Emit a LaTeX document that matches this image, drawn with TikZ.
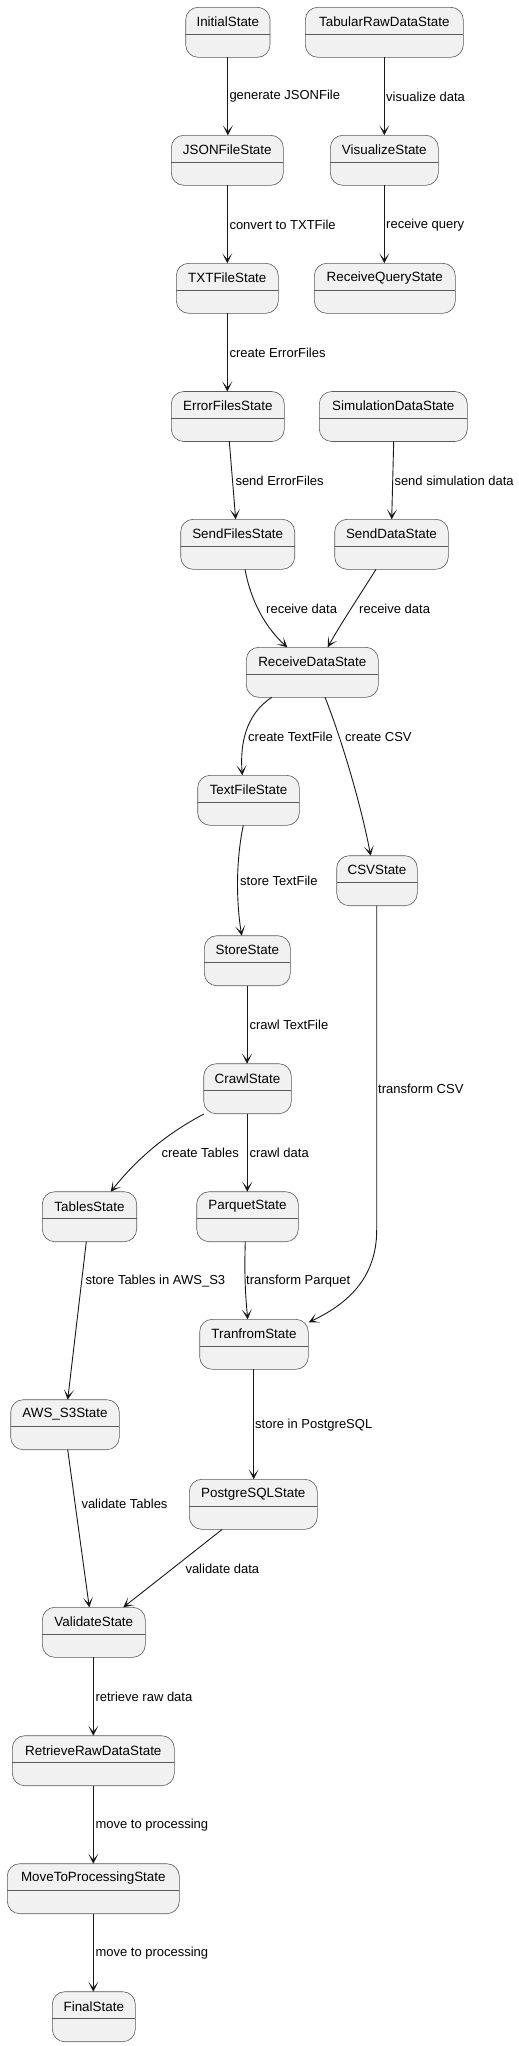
\documentclass[tikz,border=0pt]{standalone}
\usepackage{fontspec}
\setmainfont{Liberation Sans}
\usetikzlibrary{arrows.meta}
\definecolor{stfill}{HTML}{F1F1F1}
\definecolor{stline}{HTML}{181818}
\definecolor{stborder}{HTML}{5A5A5A}
\tikzset{
  stbox/.style={draw=stborder, line width=0.6pt, fill=stfill, rounded corners=12.5pt,
    minimum height=50pt, inner sep=0pt, outer sep=0pt},
  sttitle/.style={font=\fontsize{13.4}{16}\selectfont, inner sep=0pt, text=black},
  lbl/.style={font=\fontsize{13}{15}\selectfont, inner sep=0pt, anchor=west, text=black},
  tr/.style={draw=stline, line width=0.9pt, -{Stealth[length=10pt,width=10pt,inset=6pt]}}
}
\newcommand{\mystate}[5]{%
  \node[stbox, minimum width=#4pt] (#1) at (#2,#3) {};
  \node[sttitle] (#1t) at ([yshift=-14.5pt]#1.north) {#5};
  \draw[stborder, line width=0.6pt] ([yshift=-26.7pt]#1.north west) -- ([yshift=-26.7pt]#1.north east);
}
\begin{document}
\begin{tikzpicture}[x=1pt, y=-1pt]
\useasboundingbox (0,0) rectangle (519,2046);
\mystate{ini}{227.85}{32.3}{84.3}{InitialState}
\mystate{tab}{384.3}{32.3}{158}{TabularRawDataState}
\mystate{json}{227.3}{160.3}{112}{JSONFileState}
\mystate{vis}{384.3}{160.3}{108}{VisualizeState}
\mystate{txt}{227.3}{288.3}{102}{TXTFileState}
\mystate{rq}{384.8}{288.3}{141}{ReceiveQueryState}
\mystate{err}{227.8}{416.5}{113}{ErrorFilesState}
\mystate{sim}{393.3}{416.5}{148}{SimulationDataState}
\mystate{sendf}{237.7}{544.3}{114}{SendFilesState}
\mystate{sendd}{391.5}{544.3}{113.6}{SendDataState}
\mystate{recv}{312.3}{672.3}{132}{ReceiveDataState}
\mystate{textf}{248.5}{800.3}{101.6}{TextFileState}
\mystate{csv}{377}{880.7}{80.6}{CSVState}
\mystate{store}{247.3}{960.7}{86}{StoreState}
\mystate{crawl}{247.5}{1088.7}{87.6}{CrawlState}
\mystate{tables}{89.5}{1216.7}{94.4}{TablesState}
\mystate{parq}{247.5}{1216.7}{101.6}{ParquetState}
\mystate{tranf}{254}{1344.3}{108.6}{TranfromState}
\mystate{aws}{65}{1424.7}{108.6}{AWS\_S3State}
\mystate{pg}{253.3}{1504.3}{128}{PostgreSQLState}
\mystate{val}{93.8}{1632.3}{103}{ValidateState}
\mystate{ret}{93.3}{1760.7}{162}{RetrieveRawDataState}
\mystate{move}{93.3}{1888.7}{172}{MoveToProcessingState}
\mystate{fin}{93.8}{2016.7}{83}{FinalState}

% connectors
\draw[tr] (ini.south) -- (ini.south |- json.north);
\draw[tr] (tab.south) -- (tab.south |- vis.north);
\draw[tr] (json.south) -- (json.north |- txt.north);
\draw[tr] (vis.south) -- (vis.south |- rq.north);
\draw[tr] (txt.south) -- (txt.south |- err.north);
\draw[tr] ([xshift=1.5pt]err.south) -- ([xshift=-2pt]sendf.north);
\draw[tr] ([xshift=0.4pt]sim.south) -- ([xshift=0.2pt]sendd.north);
\draw[tr] ([xshift=7.3pt]sendf.south) .. controls (251,602) and (266,628) .. ([xshift=-25pt]recv.north);
\draw[tr] ([xshift=-15.5pt]sendd.south) .. controls (358,598) and (340,625) .. ([xshift=15.4pt]recv.north);
\draw[tr] ([xshift=-40.6pt]recv.south) .. controls (245,715) and (240,745) .. ([xshift=-6.2pt]textf.north);
\draw[tr] ([xshift=12.7pt]recv.south) .. controls (340,735) and (360,800) .. ([xshift=-6.3pt]csv.north);
\draw[tr] ([xshift=-5.2pt]textf.south) .. controls (236,860) and (236,900) .. ([xshift=-5.6pt]store.north);
\draw[tr] ([xshift=-0.2pt]store.south) -- ([xshift=-0.2pt]store.south |- crawl.north);
\draw[tr] ([yshift=-0.4pt]crawl.south west) .. controls (170,1132) and (140,1155) .. ([xshift=21.2pt]tables.north);
\draw[tr] ([xshift=-0.2pt]crawl.south) -- ([xshift=-0.2pt]crawl.south |- parq.north);
\draw[tr] ([xshift=-0.3pt]csv.south) -- (376.7,1230) .. controls (376.7,1280) and (345,1305) .. ([xshift=0.5pt, yshift=-3pt]tranf.north east);
\draw[tr] ([xshift=-3.2pt]tables.south) -- ([xshift=2.7pt]aws.north);
\draw[tr] ([xshift=-2.2pt]parq.south) .. controls (244,1280) and (246,1300) .. ([xshift=-6.3pt]tranf.north);
\draw[tr] ([xshift=-0.3pt]tranf.south) -- ([xshift=-0.3pt]tranf.south |- pg.north);
\draw[tr] ([xshift=2.7pt]aws.south) -- ([xshift=-4.5pt]val.north);
\draw[tr] ([xshift=-31pt]pg.south) -- ([xshift=29.5pt]val.north);
\draw[tr] ([xshift=-0.5pt]val.south) -- (ret.north);
\draw[tr] (ret.south) -- (move.north);
\draw[tr] (move.south) -- ([xshift=-0.5pt]fin.north);

% labels
\node[lbl] (l1) at (229.3,96.5) {generate JSONFile};
\node[lbl] (l2) at (386,96.5) {visualize data};
\node[lbl] (l3) at (229.3,224.7) {convert to TXTFile};
\node[lbl] (l4) at (386,224.7) {receive query};
\node[lbl] (l5) at (229.3,352.7) {create ErrorFiles};
\node[lbl] (l6) at (235.3,480.7) {send ErrorFiles};
\node[lbl] (l7) at (394.3,480.7) {send simulation data};
\node[lbl] (l8) at (266,608.7) {receive data};
\node[lbl] (l9) at (359,608.7) {receive data};
\node[lbl] (l10) at (248,736.7) {create TextFile};
\node[lbl] (l11) at (345,736.7) {create CSV};
\node[lbl] (l12) at (240,880.7) {store TextFile};
\node[lbl] (l13) at (249.3,1024.7) {crawl TextFile};
\node[lbl] (l14) at (378,1088.7) {transform CSV};
\node[lbl] (l15) at (161.3,1152.7) {create Tables};
\node[lbl] (l16) at (249.3,1152.7) {crawl data};
\node[lbl] (l17) at (85.3,1280.7) {store Tables in AWS\_S3};
\node[lbl] (l18) at (246,1280.7) {transform Parquet};
\node[lbl] (l19) at (255,1424.7) {store in PostgreSQL};
\node[lbl] (l20) at (81.3,1504.3) {validate Tables};
\node[lbl] (l21) at (185.3,1568.7) {validate data};
\node[lbl] (l22) at (95.3,1696.7) {retrieve raw data};
\node[lbl] (l23) at (95.3,1824.7) {move to processing};
\node[lbl] (l24) at (95.3,1952.7) {move to processing};
\end{tikzpicture}
\end{document}
